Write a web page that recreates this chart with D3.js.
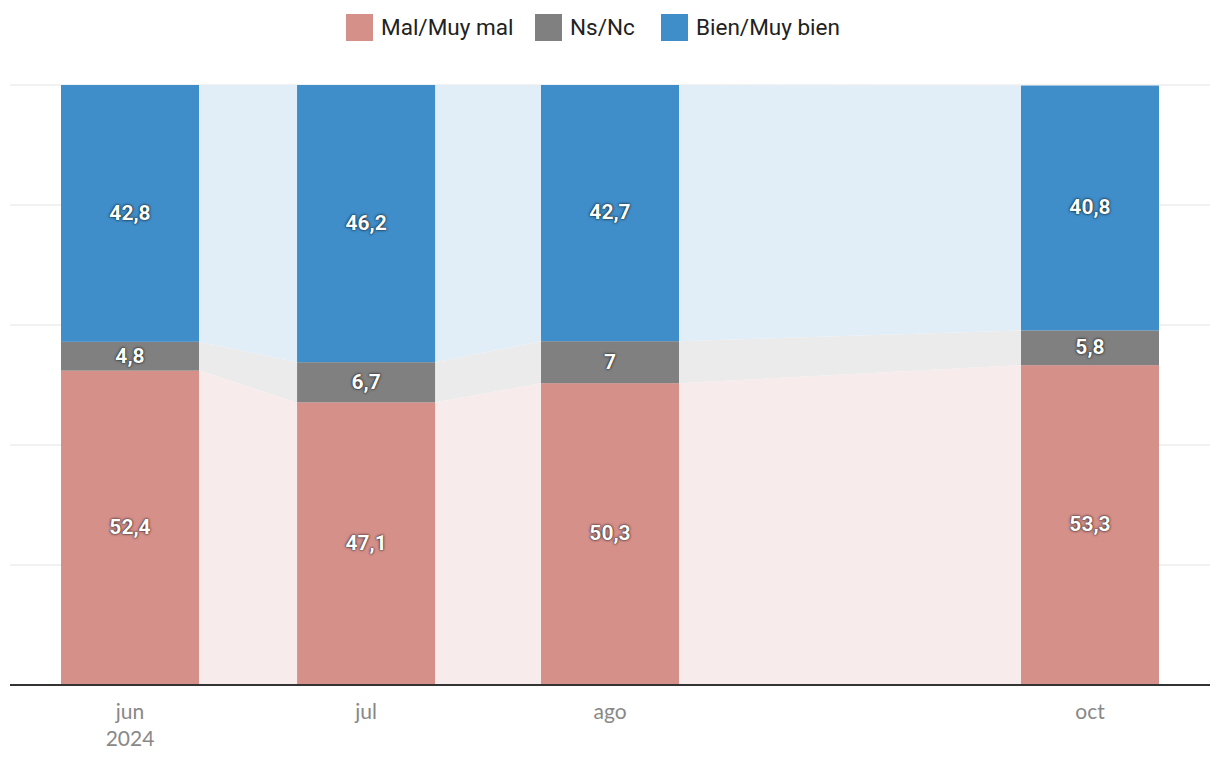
<!DOCTYPE html>
<html>
<head>
<meta charset="utf-8">
<script src="https://cdn.jsdelivr.net/npm/d3@7"></script>
<style>
  body { margin: 0; background: #fff; }
  .label { font-family: Roboto, sans-serif; font-weight: 700; font-size: 21px; fill: #fff;
           text-shadow: 0 0 3px rgba(0,0,0,0.85), 0 0 1px rgba(0,0,0,0.7); }
  .tick text { font-family: Lato, sans-serif; font-size: 21px; fill: #888; }
  .legend text { font-family: Roboto, sans-serif; font-size: 22.5px; fill: #222; }
</style>
</head>
<body>
<svg id="chart" width="1220" height="778"></svg>
<script>
const dates = ["2024-06-01", "2024-07-01", "2024-08-01", "2024-10-01"]
const tickLabels = [["jun", "2024"], ["jul"], ["ago"], ["oct"]]
const seriesNames = ["Mal/Muy mal", "Ns/Nc", "Bien/Muy bien"]
const mal = [52.4, 47.1, 50.3, 53.3]
const nsnc = [4.8, 6.7, 7, 5.8]
const bien = [42.8, 46.2, 42.7, 40.8]
const colors = ["#d6908a", "#808080", "#3f8dc9"]
const lightColors = ["#f7eceb", "#ebebeb", "#e1edf7"]
const gridValues = [0, 20, 40, 60, 80, 100]

const parse = d3.timeParse("%Y-%m-%d")
const rows = dates.map((d, i) => ({date: parse(d), i, mal: mal[i], nsnc: nsnc[i], bien: bien[i]}))
const keys = ["mal", "nsnc", "bien"]

const svg = d3.select("#chart")
const plot = {left: 10, right: 1210, top: 85, bottom: 685}
const barW = 138

const x = d3.scaleTime().domain([rows[0].date, rows[3].date]).range([130, 1090])
const y = d3.scaleLinear().domain([0, 100]).range([plot.bottom, plot.top])

const stack = d3.stack().keys(keys)
const series = stack(rows)

// grid
svg.append("g").selectAll("line")
  .data(gridValues.slice(1))
  .join("line")
  .attr("x1", plot.left).attr("x2", plot.right)
  .attr("y1", d => y(d)).attr("y2", d => y(d))
  .attr("stroke", "#e4e4e4").attr("stroke-width", 1)

// background areas from bar edge to bar edge
const area = d3.area()
  .x(p => p.x)
  .y0(p => y(p.d[0]))
  .y1(p => y(p.d[1]))

svg.append("g").selectAll("path")
  .data(series)
  .join("path")
  .attr("fill", (s, i) => lightColors[i])
  .attr("d", s => {
    const pts = []
    s.forEach(d => {
      const cx = x(d.data.date)
      pts.push({x: cx - barW / 2, d}, {x: cx + barW / 2, d})
    })
    return area(pts)
  })

// bars
const layers = svg.append("g").selectAll("g")
  .data(series)
  .join("g")
  .attr("fill", (s, i) => colors[i])

layers.selectAll("rect")
  .data(s => s)
  .join("rect")
  .attr("x", d => x(d.data.date) - barW / 2)
  .attr("width", barW)
  .attr("y", d => y(d[1]))
  .attr("height", d => y(d[0]) - y(d[1]))

// labels
const fmt = v => String(v).replace(".", ",")
svg.append("g").selectAll("g")
  .data(series)
  .join("g")
  .selectAll("text")
  .data(s => s.map(d => ({d, key: s.key})))
  .join("text")
  .attr("class", "label")
  .attr("text-anchor", "middle")
  .attr("dy", "0.3em")
  .attr("x", p => x(p.d.data.date))
  .attr("y", p => (y(p.d[0]) + y(p.d[1])) / 2)
  .text(p => fmt(p.d.data[p.key]))

// x axis
svg.append("line")
  .attr("x1", plot.left).attr("x2", plot.right)
  .attr("y1", plot.bottom).attr("y2", plot.bottom)
  .attr("stroke", "#333").attr("stroke-width", 2)

const ticks = svg.append("g").selectAll("g")
  .data(rows)
  .join("g")
  .attr("class", "tick")
  .attr("transform", d => `translate(${x(d.date)}, ${plot.bottom})`)

ticks.selectAll("text")
  .data(d => tickLabels[d.i])
  .join("text")
  .attr("text-anchor", "middle")
  .attr("y", (t, j) => 34 + j * 27)
  .text(t => t)

// legend
const legendX = [346, 535, 661]
const legend = svg.append("g").attr("class", "legend")
  .selectAll("g")
  .data(seriesNames)
  .join("g")
  .attr("transform", (d, i) => `translate(${legendX[i]}, 14)`)

legend.append("rect")
  .attr("width", 27).attr("height", 27)
  .attr("fill", (d, i) => colors[i])

legend.append("text")
  .attr("x", 35).attr("y", 21)
  .text(d => d)
</script>
</body>
</html>
